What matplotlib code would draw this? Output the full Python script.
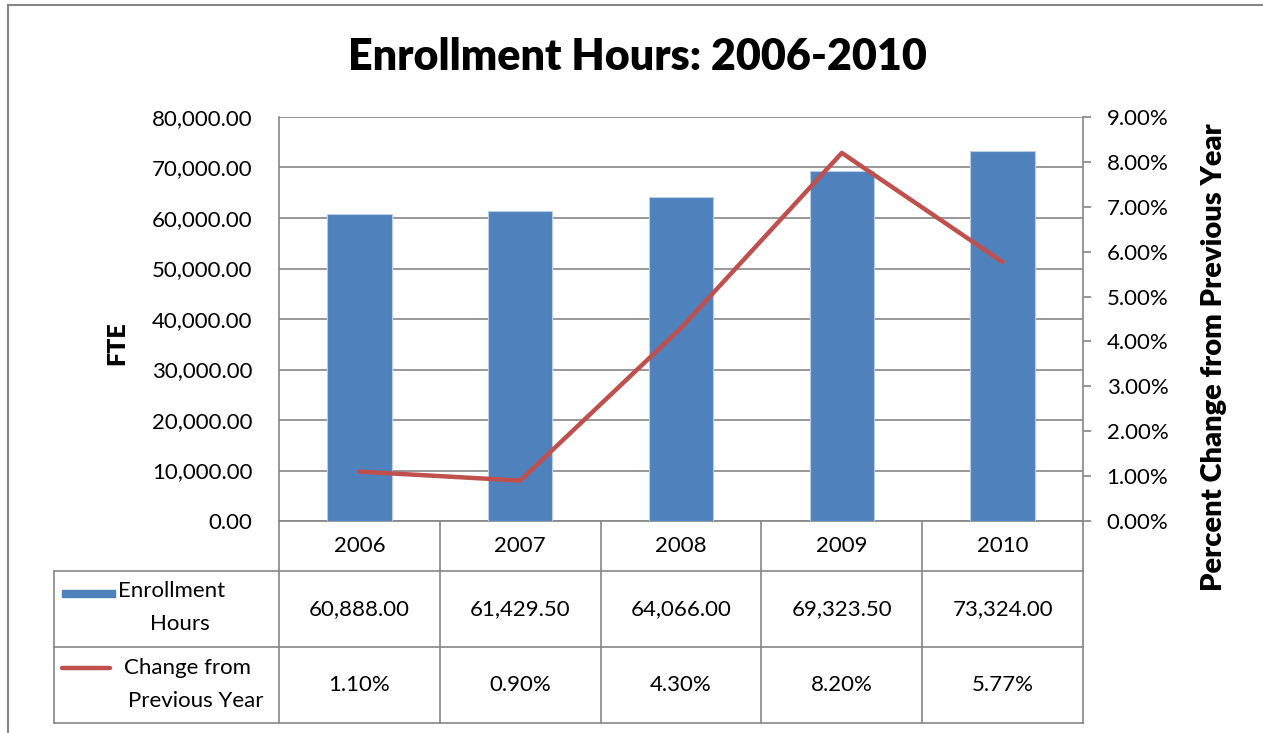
import numpy as np
import matplotlib
matplotlib.use("Agg")
import matplotlib.pyplot as plt
from matplotlib.patches import Rectangle
from matplotlib.lines import Line2D

plt.rcParams["font.family"] = ["Lato", "DejaVu Sans"]

years = ["2006", "2007", "2008", "2009", "2010"]
hours = [60888.00, 61429.50, 64066.00, 69323.50, 73324.00]
change_pct = [1.10, 0.90, 4.30, 8.20, 5.77]
hours_labels = ["60,888.00", "61,429.50", "64,066.00", "69,323.50", "73,324.00"]
change_labels = ["1.10%", "0.90%", "4.30%", "8.20%", "5.77%"]

BAR = "#4F81BD"
LINE = "#C0504D"
GRID = "#868686"
FS = 16

W, H = 1263, 733
fig = plt.figure(figsize=(W / 100, H / 100), dpi=100)

# plot area in pixels
px0, px1, py0, py1 = 279, 1083, 117, 521
ax = fig.add_axes([px0 / W, 1 - py1 / H, (px1 - px0) / W, (py1 - py0) / H])
ax2 = ax.twinx()

x = np.arange(len(years))
ax.bar(x, hours, width=0.40, color=BAR, edgecolor="#B9CDE5", linewidth=0.8, zorder=3)
ax.set_xlim(-0.5, len(years) - 0.5)
ax.set_ylim(0, 80000)
ax.set_yticks(np.arange(0, 80001, 10000))
ax.set_yticklabels([f"{v:,.2f}" for v in np.arange(0, 80001, 10000)], fontsize=FS)
ax.yaxis.grid(True, color=GRID, lw=1.2, zorder=0)
ax.set_axisbelow(True)
ax.set_xticks([])
ax.tick_params(axis="y", length=0, pad=19, colors="black")
for s in ["top", "right", "bottom"]:
    ax.spines[s].set_visible(False)
ax.spines["left"].set_color(GRID)
ax.spines["left"].set_linewidth(1.2)
ax.set_ylabel("FTE", fontsize=18, fontweight="heavy")

ax2.plot(x, change_pct, color=LINE, lw=3.2, solid_capstyle="round",
         solid_joinstyle="round", zorder=4)
ax2.set_ylim(0, 9)
ax2.set_yticks(np.arange(0, 9.01, 1))
ax2.set_yticklabels([f"{v:.2f}%" for v in np.arange(0, 9.01, 1)], fontsize=FS)
ax2.tick_params(axis="y", length=6, width=1.2, color=GRID, pad=11)
for s in ["top", "left", "bottom"]:
    ax2.spines[s].set_visible(False)
ax2.spines["right"].set_color(GRID)
ax2.spines["right"].set_linewidth(1.2)
ax2.set_ylabel("Percent Change from Previous Year", fontsize=21, fontweight="heavy")
ax2.yaxis.set_label_coords((1201 - px0) / (px1 - px0), (py1 - 357) / (py1 - py0))
ax.yaxis.set_label_coords((128 - px0) / (px1 - px0), (py1 - 343) / (py1 - py0))

# data table under the plot, x in data units, y in axes fraction
tr = ax.get_xaxis_transform()
step = (px1 - px0) / len(years)
def fy(py):
    return (py1 - py) / (py1 - py0)
xl = -0.5 - (px0 - 54) / step
r0, r1, r2, r3 = fy(521), fy(571), fy(647), fy(723)
kw = dict(transform=tr, color=GRID, lw=1.2, clip_on=False)
ax.add_line(Line2D([-0.5, 4.5], [r0, r0], **kw))
for yy in (r1, r2, r3):
    ax.add_line(Line2D([xl, 4.5], [yy, yy], **kw))
for i in range(len(years) + 1):
    ax.add_line(Line2D([i - 0.5, i - 0.5], [r0, r3], **kw))
ax.add_line(Line2D([xl, xl], [r1, r3], **kw))

for i in range(len(years)):
    ax.text(i, (r0 + r1) / 2, years[i], transform=tr, ha="center", va="center", fontsize=FS)
    ax.text(i, (r1 + r2) / 2, hours_labels[i], transform=tr, ha="center", va="center", fontsize=FS)
    ax.text(i, (r2 + r3) / 2, change_labels[i], transform=tr, ha="center", va="center", fontsize=FS)

# legend keys in the row headers
ax.add_patch(Rectangle((xl + 0.05, fy(597)), 0.33, fy(590) - fy(597), transform=tr,
                       color=BAR, clip_on=False))
ax.text(xl + 0.40, fy(591), "Enrollment", transform=tr, ha="left", va="center", fontsize=FS)
ax.text(xl + 0.78, fy(624), "Hours", transform=tr, ha="center", va="center", fontsize=FS)
ax.add_line(Line2D([xl + 0.05, xl + 0.35], [fy(668), fy(668)], transform=tr, color=LINE,
                   lw=3.2, solid_capstyle="round", clip_on=False))
ax.text(xl + 0.435, fy(668), "Change from", transform=tr, ha="left", va="center", fontsize=FS)
ax.text(xl + 0.88, fy(701), "Previous Year", transform=tr, ha="center", va="center", fontsize=FS)

fig.text(637 / W, 1 - 57 / H, "Enrollment Hours: 2006-2010", ha="center", va="center",
         fontsize=31, fontweight="heavy")

# outer chart border
fig.add_artist(Line2D([8 / W, 1], [1 - 5 / H, 1 - 5 / H], transform=fig.transFigure,
                      color=GRID, lw=1.5))
fig.add_artist(Line2D([8 / W, 8 / W], [0, 1 - 5 / H], transform=fig.transFigure,
                      color=GRID, lw=1.5))

fig.savefig("out.png", dpi=100)
